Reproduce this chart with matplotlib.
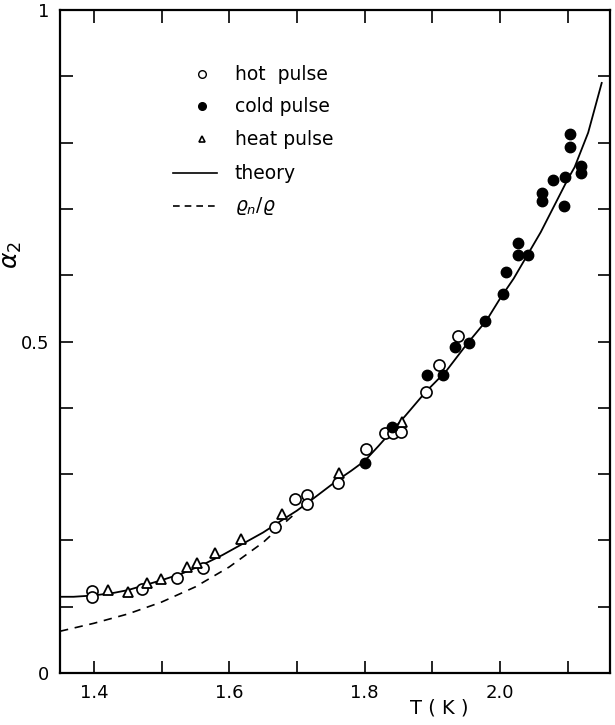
import matplotlib
matplotlib.use('Agg')
import matplotlib.pyplot as plt

# data
hot_T = [1.397, 1.397, 1.471, 1.523, 1.561, 1.667, 1.697, 1.715, 1.715, 1.760,
         1.802, 1.830, 1.842, 1.853, 1.890, 1.910, 1.938]
hot_a = [0.124, 0.115, 0.127, 0.143, 0.158, 0.220, 0.262, 0.268, 0.255, 0.287,
         0.338, 0.362, 0.362, 0.363, 0.424, 0.464, 0.508]

cold_T = [1.800, 1.840, 1.892, 1.915, 1.933, 1.954, 1.978, 2.004, 2.008, 2.026,
          2.026, 2.041, 2.062, 2.062, 2.078, 2.096, 2.094, 2.103, 2.103, 2.119, 2.119]
cold_a = [0.317, 0.371, 0.449, 0.449, 0.492, 0.498, 0.531, 0.572, 0.605, 0.648,
          0.631, 0.631, 0.724, 0.712, 0.744, 0.748, 0.704, 0.813, 0.794, 0.765, 0.754]

heat_T = [1.421, 1.450, 1.478, 1.499, 1.537, 1.552, 1.579, 1.617, 1.678, 1.762, 1.855]
heat_a = [0.125, 0.122, 0.136, 0.142, 0.160, 0.166, 0.181, 0.202, 0.240, 0.302, 0.379]

theory_T = [1.35, 1.37, 1.40, 1.43, 1.45, 1.50, 1.53, 1.56, 1.59, 1.62, 1.65, 1.68,
            1.70, 1.72, 1.76, 1.78, 1.80, 1.82, 1.84, 1.86, 1.89, 1.92, 1.95, 1.98,
            2.00, 2.02, 2.04, 2.06, 2.08, 2.10, 2.11, 2.13, 2.15]
theory_a = [0.115, 0.115, 0.117, 0.121, 0.125, 0.140, 0.150, 0.163, 0.178, 0.195,
            0.212, 0.232, 0.245, 0.260, 0.291, 0.305, 0.320, 0.342, 0.365, 0.388,
            0.424, 0.455, 0.495, 0.532, 0.565, 0.595, 0.630, 0.665, 0.705, 0.745,
            0.763, 0.815, 0.89]

rho_T = [1.35, 1.40, 1.45, 1.50, 1.55, 1.60, 1.65, 1.68, 1.70]
rho_a = [0.063, 0.075, 0.089, 0.107, 0.130, 0.160, 0.197, 0.225, 0.243]

legend_labels = ['hot  pulse', 'cold pulse', 'heat pulse', 'theory', r'$\varrho_n/\varrho$']

plt.rcParams['font.family'] = ['DejaVu Sans']
plt.rcParams['mathtext.fontset'] = 'dejavusans'

fig = plt.figure(figsize=(6.15, 7.25), dpi=100)
ax = fig.add_axes([0.0976, 0.0717, 0.894, 0.9145])

ax.plot(theory_T, theory_a, '-', color='black', lw=1.3)
ax.plot(rho_T, rho_a, '--', color='black', lw=1.2, dashes=(5, 4))
ax.plot(hot_T, hot_a, 'o', mfc='white', mec='black', ms=8, mew=1.2, ls='none')
ax.plot(cold_T, cold_a, 'o', mfc='black', mec='black', ms=7.5, ls='none')
ax.plot(heat_T, heat_a, '^', mfc='white', mec='black', ms=6.5, mew=1.3, ls='none')

# hand-placed legend, in axes fraction
ys = [0.903, 0.855, 0.805, 0.754, 0.704]
tr = ax.transAxes
ax.plot([0.258], [ys[0]], 'o', mfc='white', mec='black', ms=5.5, mew=1, transform=tr)
ax.plot([0.258], [ys[1]], 'o', mfc='black', mec='black', ms=5.5, transform=tr)
ax.plot([0.258], [ys[2]], '^', mfc='white', mec='black', ms=4.5, mew=1.2, transform=tr)
ax.plot([0.205, 0.285], [ys[3], ys[3]], '-', color='black', lw=1.2, transform=tr)
ax.plot([0.205, 0.285], [ys[4], ys[4]], '--', color='black', lw=1.2, dashes=(4, 3), transform=tr)
for y, lab in zip(ys, legend_labels):
    ax.text(0.318, y, lab, transform=tr, fontsize=13.5, va='center', ha='left')

ax.set_xlim(1.35, 2.162)
ax.set_ylim(0, 1)
ax.set_xticks([1.4, 1.5, 1.6, 1.7, 1.8, 1.9, 2.0, 2.1])
ax.set_xticklabels(['1.4', '', '1.6', '', '1.8', '', '2.0', ''])
ax.set_yticks([0, 0.1, 0.2, 0.3, 0.4, 0.5, 0.6, 0.7, 0.8, 0.9, 1.0])
ax.set_yticklabels(['0', '', '', '', '', '0.5', '', '', '', '', '1'])
ax.tick_params(direction='in', length=9, width=1.2, top=True, right=True,
               labelsize=13, pad=8)
for s in ax.spines.values():
    s.set_linewidth(1.6)

ax.set_ylabel(r'$\alpha_2$', fontsize=18, labelpad=10)
ax.yaxis.set_label_coords(-0.065, 0.63)
ax.set_xlabel('T ( K )', fontsize=14)
ax.xaxis.set_label_coords(0.69, -0.038)

plt.savefig('out.png', dpi=100)
plt.close()
